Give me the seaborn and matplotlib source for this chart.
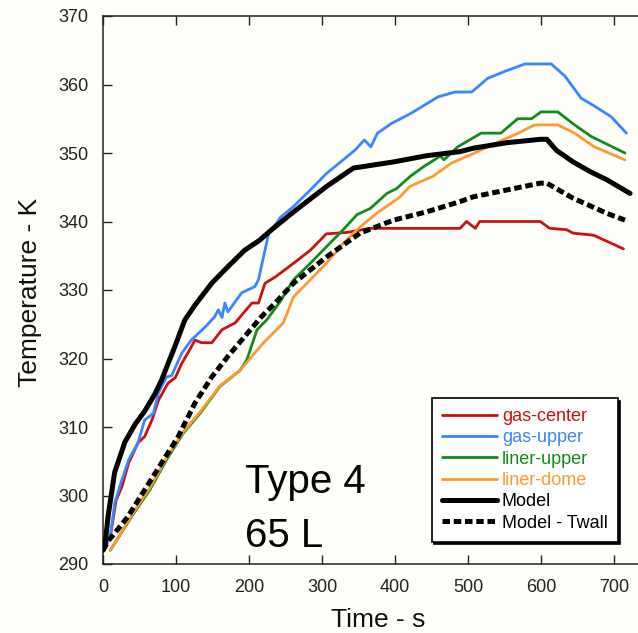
import numpy as np
import pandas as pd
import matplotlib
matplotlib.use("Agg")
import matplotlib.pyplot as plt
import seaborn as sns

# ---------------- data ----------------
gc_t = [0, 10, 18, 26, 35, 48, 57, 67, 76, 89, 99, 108, 121, 126, 135, 149, 163, 181, 204, 213, 222, 236, 261, 284, 306, 334, 366, 462, 489, 498, 510, 516, 599, 612, 635, 644, 672, 713]
gc_T = [292, 294, 299.3, 301.3, 304.7, 307.7, 308.6, 311, 313.9, 316.4, 317.2, 319.3, 321.7, 322.7, 322.3, 322.3, 324.2, 325.2, 328.1, 328.1, 331, 331.9, 333.9, 335.8, 338.2, 338.4, 339, 339, 339, 340, 339, 340, 340, 339, 338.8, 338.3, 338, 336]

gu_t = [3, 10, 16, 26, 35, 48, 57, 69, 76, 87, 94, 108, 121, 140, 153, 158, 163, 167, 171, 190, 208, 213, 227, 231, 244, 261, 284, 306, 329, 345, 358, 367, 376, 395, 422, 459, 482, 505, 527, 550, 578, 614, 633, 655, 674, 696, 717]
gu_T = [292.5, 294, 298.9, 302.3, 305.2, 307.7, 311, 312, 315, 317.3, 317.5, 320.8, 322.7, 324.6, 326.1, 327.1, 326, 328.1, 326.8, 329.6, 330.5, 331.5, 338.3, 338.8, 340.7, 342.2, 344.6, 347, 349, 350.4, 351.9, 350.9, 352.9, 354.3, 355.8, 358.2, 358.9, 358.9, 360.9, 361.9, 363, 363, 361.2, 358, 356.8, 355.3, 352.9]

lu_t = [10, 42, 64, 87, 110, 133, 160, 188, 197, 211, 224, 242, 261, 284, 306, 329, 348, 366, 389, 402, 421, 439, 457, 462, 467, 486, 518, 545, 568, 587, 600, 623, 646, 669, 692, 715]
lu_T = [292, 297.4, 300.8, 305.2, 309.1, 312, 315.9, 318.3, 319.8, 324.2, 325.6, 328.2, 331.5, 333.9, 336.3, 338.8, 341, 341.9, 344.1, 344.8, 346.6, 348, 349.2, 349.6, 349.0, 350.9, 352.9, 352.9, 355, 355, 356, 356, 354.1, 352.4, 351.2, 350]

ld_t = [10, 42, 64, 87, 110, 133, 160, 188, 219, 233, 247, 261, 284, 306, 329, 352, 375, 407, 420, 452, 477, 509, 537, 569, 591, 623, 646, 673, 715]
ld_T = [292, 297.6, 301.1, 305.5, 309.3, 312.2, 316, 318.3, 322.2, 323.7, 325.2, 329, 331.5, 333.9, 336.8, 339.2, 341.2, 343.6, 345.1, 346.6, 348.5, 350, 351.4, 352.9, 354.1, 354.1, 352.9, 350.9, 349]

md_t = [0, 3, 7, 16, 30, 44, 57, 71, 80, 99, 112, 126, 149, 171, 194, 215, 231, 261, 306, 343, 398, 443, 489, 507, 553, 599, 608, 621, 644, 667, 690, 722]
md_T = [292, 293, 297, 303.4, 307.8, 310.4, 312.3, 314.8, 316.8, 321.9, 325.6, 327.8, 331, 333.4, 335.8, 337.3, 338.8, 341.4, 345.1, 347.8, 348.7, 349.6, 350.2, 350.7, 351.5, 352, 352, 350.4, 348.7, 347.3, 346.1, 344.1]

mw_t = [0, 8, 16, 34, 57, 80, 103, 126, 149, 171, 194, 217, 236, 261, 306, 352, 398, 443, 489, 507, 553, 599, 608, 644, 690, 715]
mw_T = [292, 293.5, 294.5, 296.9, 300.8, 304.7, 308.6, 313.5, 317.3, 320.3, 323.2, 326.1, 328.1, 331, 334.8, 338.3, 340.2, 341.4, 342.9, 343.6, 344.6, 345.6, 345.6, 343.4, 341.2, 340.2]

labels = ["gas-center", "gas-upper", "liner-upper", "liner-dome", "Model", "Model - Twall"]
colors = ["#cc1111", "#3a86ff", "#138a1c", "#ff9a2e", "#000000", "#000000"]
x_ticks = [0, 100, 200, 300, 400, 500, 600, 700]
y_ticks = [290, 300, 310, 320, 330, 340, 350, 360, 370]

# ---------------- style ----------------
sns.set_theme(style="ticks")
plt.rcParams["font.family"] = ["Liberation Sans", "DejaVu Sans"]
BG = "#fefefb"

W, H = 638, 633
fig = plt.figure(figsize=(W / 100, H / 100), dpi=100, facecolor=BG)
ax_left, ax_bottom = 103 / W, 1 - 564 / H
ax_h = (564 - 16) / H
ax_w = 0.86
ax = fig.add_axes([ax_left, ax_bottom, ax_w, ax_h], facecolor=BG)

series = [(gc_t, gc_T), (gu_t, gu_T), (lu_t, lu_T), (ld_t, ld_T), (md_t, md_T), (mw_t, mw_T)]
widths = [2.0, 2.0, 2.0, 2.0, 3.6, 3.6]
styles = ["-", "-", "-", "-", "-", (0, (1.5, 0.75))]
for (tt, TT), lab, c, lw, ls in zip(series, labels, colors, widths, styles):
    df = pd.DataFrame({"t": tt, "T": TT})
    sns.lineplot(data=df, x="t", y="T", ax=ax, color=c, linewidth=lw,
                 linestyle=ls, estimator=None, sort=False, label=lab,
                 solid_joinstyle="round", zorder=3)

xmax = ax_w * W / 0.73
ax.set_xlim(0, xmax)
ax.set_ylim(290, 370)
ax.set_xticks(x_ticks)
ax.set_yticks(y_ticks)
ax.set_xticklabels([str(v) for v in x_ticks])
ax.set_yticklabels([str(v) for v in y_ticks])

for s in ax.spines.values():
    s.set_color("#222222")
    s.set_linewidth(1.1)
ax.tick_params(axis="both", direction="in", length=6.5, width=1.0, color="#222222",
               labelsize=13, labelcolor="#222222", pad=10.5)
ax.tick_params(axis="x", top=True)

ax.set_xlabel("Time - s", fontsize=19, color="#111111")
ax.set_ylabel("Temperature - K", fontsize=19, color="#111111")
ax.xaxis.set_label_coords((378 - 103) / (ax_w * W), (564 - 608) / 548)
ax.yaxis.set_label_coords((42 - 103) / (ax_w * W), (564 - 292) / 548)

fig.text(245 / W, 1 - 493 / H, "Type 4", fontsize=29, color="black", va="baseline", ha="left")
fig.text(245 / W, 1 - 547 / H, "65 L", fontsize=29, color="black", va="baseline", ha="left")

handles, labs = ax.get_legend_handles_labels()
leg = ax.legend(handles, labs, loc="upper left",
                bbox_to_anchor=(431.7 / W, 1 - 398 / H), bbox_transform=fig.transFigure,
                fontsize=13, handlelength=3.05, handletextpad=0.28, borderpad=0.55,
                labelspacing=0.24, borderaxespad=0, fancybox=False, framealpha=1,
                edgecolor="black", facecolor="white",
                shadow={"facecolor": "black", "edgecolor": "black", "alpha": 1})
leg.get_frame().set_linewidth(1.2)
for txt, c in zip(leg.get_texts(), colors):
    txt.set_color(c)

fig.savefig("out.png", dpi=100, facecolor=BG)
